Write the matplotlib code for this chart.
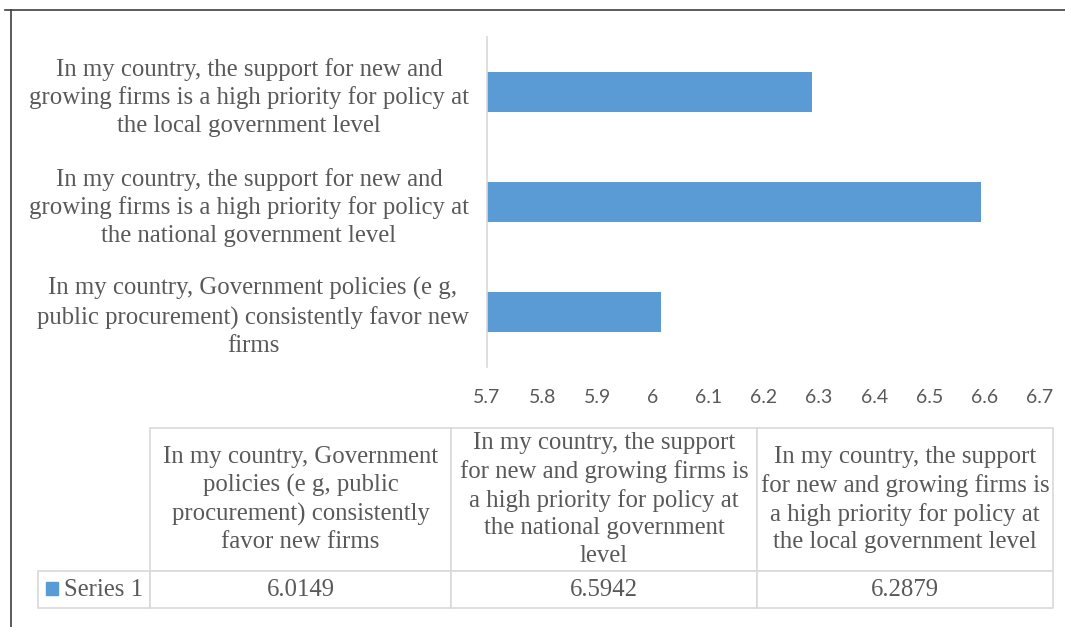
import matplotlib.pyplot as plt
from matplotlib.lines import Line2D
from matplotlib.patches import Rectangle
import numpy as np

categories = [
    "In my country, Government policies (e g,\npublic procurement) consistently favor new\nfirms",
    "In my country, the support for new and\ngrowing firms is a high priority for policy at\nthe national government level",
    "In my country, the support for new and\ngrowing firms is a high priority for policy at\nthe local government level",
]
table_headers = [
    "In my country, Government\npolicies (e g, public\nprocurement) consistently\nfavor new firms",
    "In my country, the support\nfor new and growing firms is\na high priority for policy at\nthe national government\nlevel",
    "In my country, the support\nfor new and growing firms is\na high priority for policy at\nthe local government level",
]
series_name = "Series 1"
values = [6.0149, 6.5942, 6.2879]
xticks = [5.7, 5.8, 5.9, 6.0, 6.1, 6.2, 6.3, 6.4, 6.5, 6.6, 6.7]

W, H = 1065, 627
bar_color = "#5b9bd5"
text_color = "#595959"
grid_color = "#d9d9d9"
serif = "Liberation Serif"

fig = plt.figure(figsize=(W / 100, H / 100), dpi=100)

# bar chart
ax = fig.add_axes([487 / W, 1 - 367 / H, 553 / W, 330 / H])
y = np.arange(len(values))
ax.barh(y, values, height=0.36, color=bar_color)
ax.set_xlim(5.7, 6.7)
ax.set_ylim(-0.5, 2.5)
ax.set_xticks(xticks)
ax.set_xticklabels([f"{t:g}" for t in xticks], family="Lato", fontsize=14, color=text_color)
ax.set_yticks(y)
ax.set_yticklabels(categories, family=serif, fontsize=17.8, color=text_color,
                   linespacing=1.33, multialignment="center")
ax.tick_params(axis="x", length=0, pad=16)
ax.tick_params(axis="y", length=0, pad=13)
for s in ["top", "right", "bottom"]:
    ax.spines[s].set_visible(False)
ax.spines["left"].set_color(grid_color)
ax.spines["left"].set_linewidth(1.2)

# data table below the chart
tw, th = 1015, 180
tax = fig.add_axes([38 / W, 1 - 608 / H, tw / W, th / H])
tax.axis("off")
col_w = [112, 301, 306, 296]
tbl = tax.table(cellText=[[series_name] + [f"{v:.4f}" for v in values]],
                colLabels=[""] + table_headers,
                colWidths=[w / tw for w in col_w],
                cellLoc="center", bbox=[0, 0, 1, 1])
tbl.auto_set_font_size(False)
for (r, c), cell in tbl.get_celld().items():
    cell.set_edgecolor(grid_color)
    cell.set_linewidth(1.2)
    cell.set_height((143 if r == 0 else 37) / th)
    txt = cell.get_text()
    txt.set_family(serif)
    txt.set_fontsize(17.8)
    txt.set_color(text_color)
    txt.set_linespacing(1.33)
    if r == 0 and c == 0:
        cell.visible_edges = "open"
    if r == 1 and c == 0:
        cell._loc = "left"
        cell.PAD = 0.23
        txt.set_horizontalalignment("left")

# legend key inside the row label cell
tax.add_patch(Rectangle((8 / tw, 13 / th), 12 / tw, 13 / th,
                        color=bar_color, transform=tax.transAxes, clip_on=False))

# outer frame
fig.add_artist(Line2D([5 / W, 1], [1 - 10 / H, 1 - 10 / H], color="#404040", lw=1.2))
fig.add_artist(Line2D([11 / W, 11 / W], [0, 1 - 10 / H], color="#404040", lw=1.2))

fig.savefig("out.png", dpi=100)
